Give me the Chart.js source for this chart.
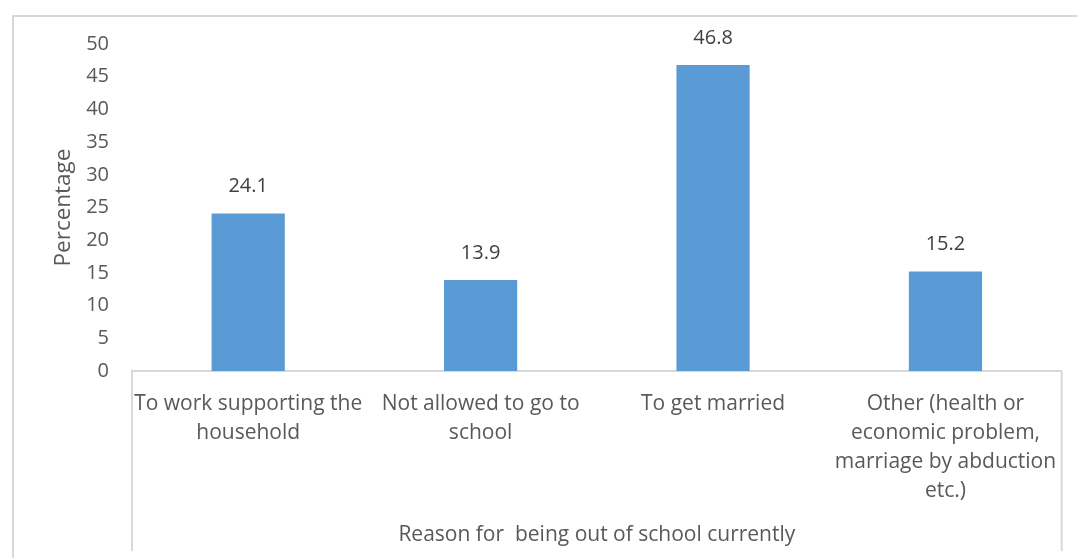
<!DOCTYPE html>
<html>
<head>
<meta charset="utf-8">
<script src="https://cdn.jsdelivr.net/npm/chart.js@4/dist/chart.umd.min.js"></script>
<style>
  html, body { margin: 0; padding: 0; background: #fff; overflow: hidden; }
  #wrap { position: relative; width: 1077px; height: 558px; }
  #frame { position: absolute; left: 12px; top: 15px; width: 1100px; height: 600px;
           border-left: 2px solid #d9d9d9; border-top: 2px solid #d9d9d9; }
  canvas { position: absolute; left: 0; top: 0; }
</style>
</head>
<body>
<div id="wrap">
  <div id="frame"></div>
  <canvas id="chart" width="1077" height="558"></canvas>
</div>
<script>
const categories = [
    ['To work supporting the', 'household'],
    ['Not allowed to go to', 'school'],
    ['To get married'],
    ['Other (health or', 'economic problem,', 'marriage by abduction', 'etc.)'],
];
const percentages = [24.1, 13.9, 46.8, 15.2];
const yTicks = [0, 5, 10, 15, 20, 25, 30, 35, 40, 45, 50];

const TEXT = '#595959';
const FONT = 'Open Sans';

// value labels above each bar + the two end lines under the category axis
const barLabels = {
    id: 'barLabels',
    afterDatasetsDraw(chart) {
        const ctx = chart.ctx;
        const meta = chart.getDatasetMeta(0);
        ctx.save();
        ctx.font = `20px "${FONT}"`;
        ctx.fillStyle = '#404040';
        ctx.textAlign = 'center';
        ctx.textBaseline = 'middle';
        meta.data.forEach((bar, i) => {
            ctx.fillText(percentages[i].toFixed(1), bar.x, bar.y - 27);
        });
        ctx.restore();
    },
    afterDraw(chart) {
        const { ctx, chartArea } = chart;
        ctx.save();
        ctx.strokeStyle = '#d9d9d9';
        ctx.lineWidth = 2;
        [chartArea.left, chartArea.right].forEach(x => {
            ctx.beginPath();
            ctx.moveTo(x, chartArea.bottom);
            ctx.lineTo(x, 551);
            ctx.stroke();
        });
        ctx.restore();
    },
};

new Chart(document.querySelector('#chart'), {
    type: 'bar',
    data: {
        labels: categories,
        datasets: [{
            data: percentages,
            backgroundColor: '#5b9bd5',
            barPercentage: 0.315,
            categoryPercentage: 1,
        }],
    },
    options: {
        responsive: false,
        animation: false,
        layout: { padding: { left: 48, top: 44, right: 15, bottom: 6 } },
        plugins: { legend: { display: false }, tooltip: { enabled: false } },
        scales: {
            x: {
                grid: { display: false, drawTicks: false },
                border: { display: true, color: '#d9d9d9', width: 2 },
                ticks: { color: TEXT, font: { family: FONT, size: 21, lineHeight: 1.38 }, padding: 19, maxRotation: 0, autoSkip: false },
                title: { display: true, text: 'Reason for  being out of school currently', color: TEXT,
                         font: { family: FONT, size: 21 }, padding: { top: 4, bottom: 4 } },
                afterFit(scale) { scale.height = 181; },
            },
            y: {
                min: 0, max: 50,
                afterBuildTicks(scale) { scale.ticks = yTicks.map(v => ({ value: v })); },
                grid: { display: false, drawTicks: false },
                border: { display: false },
                ticks: { color: TEXT, font: { family: FONT, size: 20 }, padding: 23 },
                title: { display: true, text: 'Percentage', color: TEXT,
                         font: { family: FONT, size: 22.5 }, padding: { top: 2, bottom: 4 } },
                afterFit(scale) { scale.width = 84; },
            },
        },
    },
    plugins: [barLabels],
});
</script>
</body>
</html>
